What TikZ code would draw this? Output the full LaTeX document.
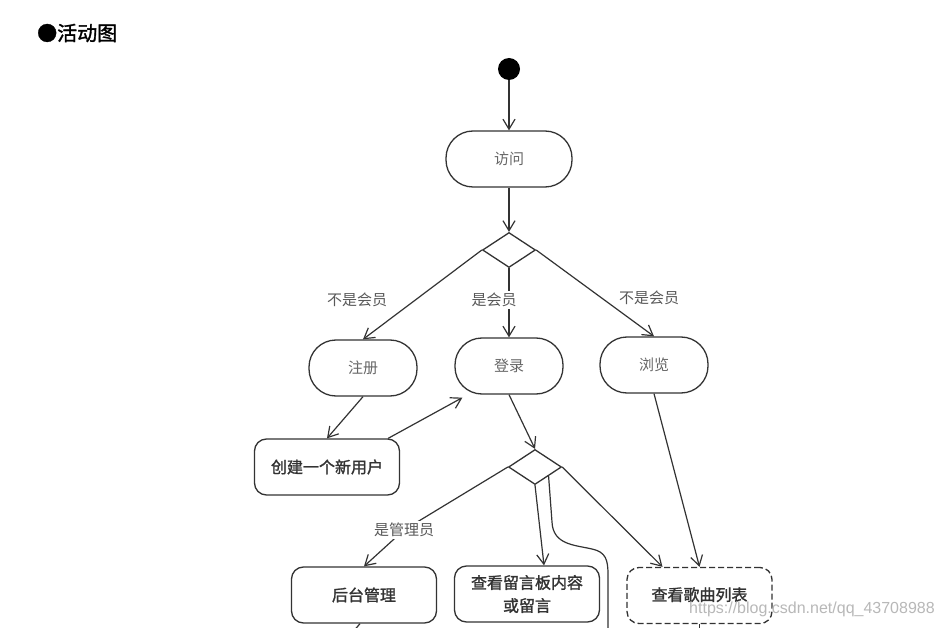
\documentclass[tikz,border=0pt]{standalone}
\usepackage{fontspec}
\usetikzlibrary{arrows.meta,shapes.geometric,backgrounds}
\newfontfamily\cjk{Noto Sans CJK SC}
\newfontfamily\cjkb[FakeBold=1.5]{Noto Sans CJK SC}
\setsansfont{Liberation Sans}
\definecolor{ln}{HTML}{333333}
\begin{document}
\begin{tikzpicture}[x=1pt,y=-1pt,
  conn/.style={draw=ln, line width=1.2pt},
  arr/.style={conn, -{Straight Barb[length=10pt,width=12pt,line width=1.2pt]}},
  act/.style={draw=ln, line width=1.3pt, rectangle, rounded corners=27pt, minimum width=108pt, minimum height=56pt, inner sep=0pt, font=\cjk\fontsize{15}{18}\selectfont, text=black!60},
  box/.style={draw=ln, line width=1.3pt, rectangle, rounded corners=12pt, minimum width=145pt, minimum height=56pt, inner sep=0pt, font=\cjkb\fontsize{16}{23}\selectfont, text=black!80, align=center},
  dec/.style={draw=ln, line width=1.3pt, diamond, minimum width=53pt, minimum height=35pt, inner sep=0pt},
  lbl/.style={font=\cjk\fontsize{15}{18}\selectfont, text=black!65, inner sep=2pt, fill=white}
]
\useasboundingbox (0,0) rectangle (942,628);
\node[anchor=west, font=\cjkb\fontsize{20}{24}\selectfont, inner sep=0pt] (title) at (37,33) {●活动图};
\node[circle, fill=black, minimum size=22pt, inner sep=0pt] (start) at (509,69) {};
\node[act, minimum width=126pt] (visit) at (509,159) {访问};
\node[dec] (d1) at (509,250) {};
\node[act] (reg) at (363,368) {注册};
\node[act] (login) at (509,366) {登录};
\node[act] (browse) at (654,365) {浏览};
\node[lbl] (l1) at (357,300) {不是会员};
\node[lbl] (l2) at (494,300) {是会员};
\node[lbl] (l3) at (649,298) {不是会员};
\node[box] (create) at (327,467) {创建一个新用户};
\node[dec] (d2) at (535,467) {};
\node[lbl] (l4) at (404,530) {是管理员};
\node[box] (admin) at (364,595) {后台管理};
\node[box] (msg) at (527,594) {查看留言板内容\\或留言};
\node[box, dash pattern=on 6pt off 3pt] (songs) at (699.5,595.5) {\raisebox{3pt}{查看歌曲列表}};
\node[anchor=base west, font=\sffamily\fontsize{16}{19}\selectfont, text=black!28, inner sep=0pt] (wm) at (689,613) {https://blog.csdn.net/qq\_43708988};
\coordinate (off1) at (608,640);
\coordinate (off2) at (346,640);
\coordinate (off3) at (699.5,640);
\begin{scope}[on background layer]
\fill[white] (0,0) rectangle (942,628);
\draw[arr] (start.south) -- (visit.north);
\draw[arr] (visit.south) -- (d1.north);
\draw[arr] (d1.west) -- (reg.north);
\draw[arr] (d1.south) -- (login.north);
\draw[arr] (d1.east) -- (browse.north);
\draw[arr] (reg.south) -- (create.north);
\draw[arr] ([xshift=-12pt]create.north east) -- ([xshift=8pt,yshift=-3pt]login.south west);
\draw[arr] (login.south) -- (d2.north);
\draw[arr] (d2.west) -- (l4.center) -- (admin.north);
\draw[arr] (d2.south) -- ([xshift=17pt]msg.north);
\draw[conn] (d2.south east) -- (552,522) .. controls (553,545) and (575,545) .. (592,549) .. controls (606,552) and (608,560) .. (608,575) -- (off1);
\draw[arr] (d2.east) -- ([xshift=-37pt]songs.north);
\draw[arr] (browse.south) -- (songs.north);
\draw[conn] ([xshift=-4pt]admin.south) -- (off2);
\draw[conn] (songs.south) -- (off3);
\end{scope}
\end{tikzpicture}
\end{document}
